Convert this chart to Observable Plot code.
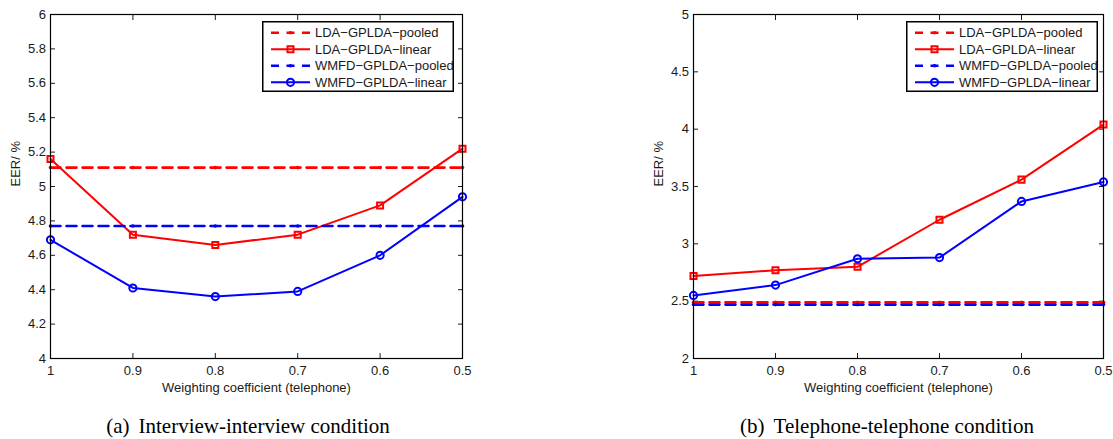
<!DOCTYPE html>
<html>
<head>
<meta charset="utf-8">
<script src="https://cdn.jsdelivr.net/npm/d3@7"></script>
<script src="https://cdn.jsdelivr.net/npm/@observablehq/plot@0.6"></script>
<style>
  html, body { margin: 0; padding: 0; background: #fff; }
  #wrap { position: relative; width: 1113px; height: 439px; overflow: hidden; font-family: "Liberation Sans", Arial, sans-serif; }
  .panel { position: absolute; top: 0; }
  .caption { position: absolute; top: 416px; font-family: "Liberation Serif", "Times New Roman", serif; font-size: 21px; line-height: 21px; color: #000; text-align: center; white-space: nowrap; }
  .caption .gap { display: inline-block; width: 9px; }
  .legend { position: absolute; }
</style>
</head>
<body>
<div id="wrap"></div>
<script>
// ---------- data ----------
const weights = [1, 0.9, 0.8, 0.7, 0.6, 0.5];
const seriesNames = ["LDA−GPLDA−pooled", "LDA−GPLDA−linear", "WMFD−GPLDA−pooled", "WMFD−GPLDA−linear"];

// (a) Interview-interview condition
const ldaPooledA = [5.11, 5.11, 5.11, 5.11, 5.11, 5.11];
const ldaLinearA = [5.16, 4.72, 4.66, 4.72, 4.89, 5.22];
const wmfdPooledA = [4.77, 4.77, 4.77, 4.77, 4.77, 4.77];
const wmfdLinearA = [4.69, 4.41, 4.36, 4.39, 4.60, 4.94];
const yTicksA = [4, 4.2, 4.4, 4.6, 4.8, 5, 5.2, 5.4, 5.6, 5.8, 6];

// (b) Telephone-telephone condition
const ldaPooledB = [2.49, 2.49, 2.49, 2.49, 2.49, 2.49];
const ldaLinearB = [2.72, 2.77, 2.80, 3.21, 3.56, 4.04];
const wmfdPooledB = [2.47, 2.47, 2.47, 2.47, 2.47, 2.47];
const wmfdLinearB = [2.55, 2.64, 2.87, 2.88, 3.37, 3.54];
const yTicksB = [2, 2.5, 3, 3.5, 4, 4.5, 5];

const xLabel = "Weighting coefficient (telephone)";
const yLabel = "EER/ %";
const captions = ["(a)", "Interview-interview condition", "(b)", "Telephone-telephone condition"];

// ---------- drawing ----------
const RED = "#ff0000", BLUE = "#0000ff", INK = "#1a1a1a";
const rows = arr => weights.map((x, i) => ({x, y: arr[i]}));
const fmt = d => String(+d);

function panel({ld, ll, wd, wl, yTicks, width, marginLeft, marginRight}) {
  const pooled = (data, color) => [
    Plot.line(rows(data), {x: "x", y: "y", stroke: color, strokeWidth: 2.6, strokeDasharray: "10,6"}),
    Plot.dot(rows(data), {x: "x", y: "y", r: 1.8, fill: color, stroke: "none"})
  ];
  const linear = (data, color, symbol, r) => [
    Plot.line(rows(data), {x: "x", y: "y", stroke: color, strokeWidth: 2}),
    Plot.dot(rows(data), {x: "x", y: "y", symbol, r, stroke: color, strokeWidth: 2, fill: "none"})
  ];
  return Plot.plot({
    width, height: 400,
    marginLeft, marginRight, marginTop: 14, marginBottom: 42,
    style: {fontFamily: "'Liberation Sans', Arial, sans-serif", fontSize: "13px", color: INK, background: "transparent", overflow: "visible"},
    x: {domain: [1, 0.5]},
    y: {domain: [yTicks[0], yTicks[yTicks.length - 1]]},
    marks: [
      Plot.axisX({anchor: "bottom", ticks: weights, tickFormat: fmt, tickSize: -5, tickPadding: 12, label: null, stroke: INK, fill: INK}),
      Plot.axisX({anchor: "top", ticks: weights, tickSize: -5, tickFormat: () => "", label: null, stroke: INK}),
      Plot.axisY({anchor: "left", ticks: yTicks, tickFormat: fmt, tickSize: -5, tickPadding: 9.5, label: null, stroke: INK, fill: INK}),
      Plot.axisY({anchor: "right", ticks: yTicks, tickSize: -5, tickFormat: () => "", label: null, stroke: INK}),
      ...pooled(ld, RED),
      ...linear(ll, RED, "square", 3.4),
      ...pooled(wd, BLUE),
      ...linear(wl, BLUE, "circle", 3.6),
      Plot.frame({stroke: "#000", strokeWidth: 1.2}),
      Plot.text([xLabel], {text: d => d, frameAnchor: "bottom", dy: 29, lineAnchor: "middle", fill: INK, fontSize: 13}),
      Plot.text([yLabel], {text: d => d, frameAnchor: "left", dx: -35, rotate: -90, lineAnchor: "middle", fill: INK, fontSize: 13})
    ]
  });
}

function legend() {
  const ns = "http://www.w3.org/2000/svg";
  const W = 192, H = 71;
  const svg = document.createElementNS(ns, "svg");
  svg.setAttribute("width", W); svg.setAttribute("height", H);
  const el = (tag, attrs) => { const e = document.createElementNS(ns, tag); for (const k in attrs) e.setAttribute(k, attrs[k]); svg.appendChild(e); return e; };
  el("rect", {x: 0.75, y: 0.75, width: W - 1.5, height: H - 1.5, fill: "#fff", stroke: "#000", "stroke-width": 1.5});
  const styles = [
    {c: RED, dash: true}, {c: RED, m: "square"}, {c: BLUE, dash: true}, {c: BLUE, m: "circle"}
  ];
  seriesNames.forEach((name, i) => {
    const cy = 11.7 + i * 16.55, s = styles[i];
    el("line", {x1: 9, x2: 48, y1: cy, y2: cy, stroke: s.c, "stroke-width": s.dash ? 2.6 : 2, "stroke-dasharray": s.dash ? "8,7.5" : "none"});
    if (s.dash) el("circle", {cx: 28.5, cy, r: 1.8, fill: s.c});
    if (s.m === "square") el("rect", {x: 25.5, y: cy - 3, width: 6, height: 6, fill: "none", stroke: s.c, "stroke-width": 2});
    if (s.m === "circle") el("circle", {cx: 28.5, cy, r: 3.6, fill: "none", stroke: s.c, "stroke-width": 2});
    const t = el("text", {x: 53, y: cy + 4.6, fill: INK, "font-size": 13, "font-family": "'Liberation Sans', Arial, sans-serif"});
    t.textContent = name;
  });
  return svg;
}

const wrap = document.getElementById("wrap");
function place(node, left, top, cls) {
  const d = document.createElement("div");
  d.className = cls; d.style.left = left + "px"; d.style.top = top + "px";
  d.appendChild(node); wrap.appendChild(d); return d;
}

place(panel({ld: ldaPooledA, ll: ldaLinearA, wd: wmfdPooledA, wl: wmfdLinearA, yTicks: yTicksA, width: 480, marginLeft: 50, marginRight: 18}), 0, 0, "panel");
place(panel({ld: ldaPooledB, ll: ldaLinearB, wd: wmfdPooledB, wl: wmfdLinearB, yTicks: yTicksB, width: 473, marginLeft: 53, marginRight: 10}), 640, 0, "panel");
place(legend(), 262, 21, "legend");
place(legend(), 906, 21, "legend");

function caption(tag, text, center) {
  const d = document.createElement("div");
  d.className = "caption";
  d.style.left = (center - 200) + "px"; d.style.width = "400px";
  const a = document.createElement("span"); a.textContent = tag;
  const g = document.createElement("span"); g.className = "gap";
  const b = document.createElement("span"); b.textContent = text;
  d.append(a, g, b);
  wrap.appendChild(d);
}
caption(captions[0], captions[1], 248);
caption(captions[2], captions[3], 887);
</script>
</body>
</html>
